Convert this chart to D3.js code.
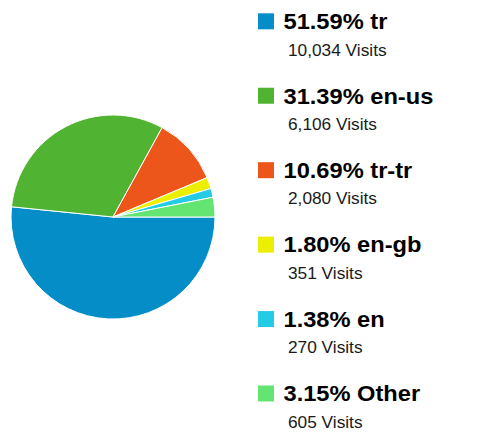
<!DOCTYPE html>
<html>
<head>
<meta charset="utf-8">
<script src="https://cdn.jsdelivr.net/npm/d3@7"></script>
<style>
  body { margin: 0; background: #fff; }
  text { font-family: "Liberation Sans", Arial, sans-serif; }
</style>
</head>
<body>
<div id="chart"></div>
<script>
const labels = ["tr", "en-us", "tr-tr", "en-gb", "en", "Other"];
const visits = [10034, 6106, 2080, 351, 270, 605];
const percents = ["51.59%", "31.39%", "10.69%", "1.80%", "1.38%", "3.15%"];
const colors = ["#058dc7", "#50b432", "#ed561b", "#edef00", "#24cbe5", "#64e572"];

const width = 501, height = 432;
const cx = 113, cy = 217, radius = 102;

const svg = d3.select("#chart")
  .append("svg")
  .attr("width", width)
  .attr("height", height);

const data = labels.map((l, i) => ({ label: l, visits: visits[i], pct: percents[i], color: colors[i] }));

// slices start at 3 o'clock and run clockwise
const pie = d3.pie()
  .sort(null)
  .value(d => d.visits)
  .startAngle(Math.PI / 2)
  .endAngle(Math.PI / 2 + 2 * Math.PI);

const arc = d3.arc().innerRadius(0).outerRadius(radius);

svg.append("g")
  .attr("transform", `translate(${cx},${cy})`)
  .selectAll("path")
  .data(pie(data))
  .join("path")
  .attr("d", arc)
  .attr("fill", d => d.data.color)
  .attr("stroke", "#fff")
  .attr("stroke-width", 1);

// legend
const rowY = d3.scalePoint().domain(labels).range([13.3, 385.5]);

const rows = svg.append("g")
  .selectAll("g")
  .data(data)
  .join("g")
  .attr("transform", d => `translate(258,${rowY(d.label)})`);

rows.append("rect")
  .attr("width", 16)
  .attr("height", 16)
  .attr("fill", d => d.color);

rows.append("text")
  .attr("transform", "translate(25.5,15.8) scale(1.1,1)")
  .attr("font-size", 21.5)
  .attr("font-weight", "bold")
  .attr("fill", "#000")
  .text(d => `${d.pct} ${d.label}`);

rows.append("text")
  .attr("transform", "translate(30,42.3) scale(1.08,1)")
  .attr("font-size", 16)
  .attr("fill", "#1a1a1a")
  .text(d => `${d3.format(",")(d.visits)} Visits`);
</script>
</body>
</html>
